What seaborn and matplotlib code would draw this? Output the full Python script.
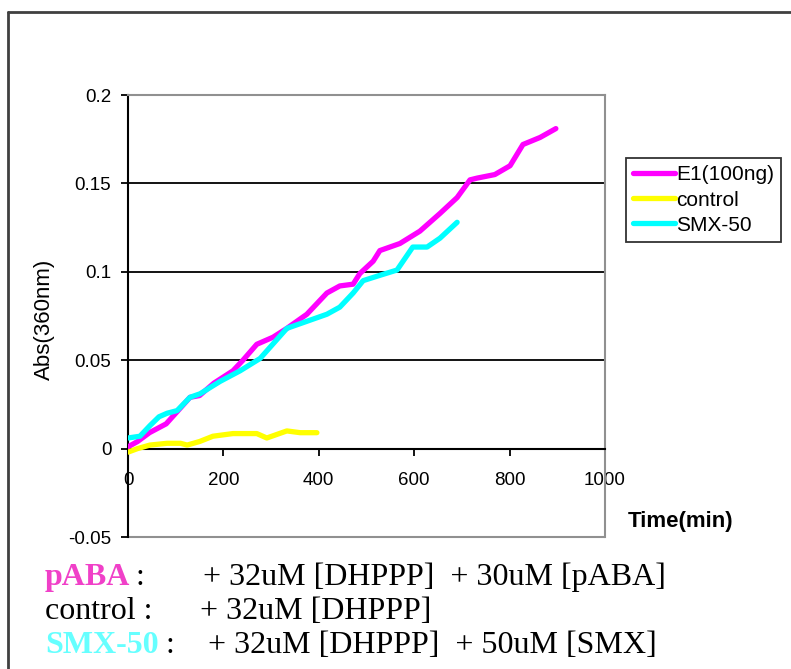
import pandas as pd
import matplotlib
matplotlib.use("Agg")
import matplotlib.pyplot as plt
from matplotlib.lines import Line2D
import seaborn as sns

# values
e1_time = [0, 20, 45, 80, 110, 130, 150, 180, 220, 241, 270, 304, 333, 375, 417,
           444, 472, 486, 514, 528, 570, 612, 654, 690, 717, 732, 769, 801, 828, 864, 897]
e1_abs = [0.001, 0.004, 0.009, 0.014, 0.023, 0.029, 0.030, 0.037, 0.044, 0.050, 0.059,
          0.063, 0.068, 0.076, 0.088, 0.092, 0.093, 0.099, 0.106, 0.112, 0.116, 0.123,
          0.133, 0.142, 0.152, 0.153, 0.155, 0.160, 0.172, 0.176, 0.181]

control_time = [0, 20, 46, 82, 110, 124, 150, 178, 220, 270, 291, 333, 361, 396]
control_abs = [-0.002, 0.000, 0.002, 0.003, 0.003, 0.002, 0.004, 0.007, 0.0085,
               0.0085, 0.006, 0.010, 0.009, 0.009]

smx_time = [0, 25, 46, 65, 82, 103, 130, 151, 175, 193, 235, 277, 333, 375, 417,
            444, 472, 493, 528, 564, 597, 627, 654, 690]
smx_abs = [0.006, 0.007, 0.013, 0.018, 0.020, 0.0215, 0.029, 0.031, 0.035, 0.038,
           0.044, 0.051, 0.068, 0.072, 0.076, 0.080, 0.088, 0.095, 0.098, 0.101,
           0.114, 0.114, 0.119, 0.128]

series_names = ["E1(100ng)", "control", "SMX-50"]
series_colors = ["#FF00FF", "#FFFF00", "#00FFFF"]

y_ticks = [-0.05, 0, 0.05, 0.1, 0.15, 0.2]
y_tick_labels = ["-0.05", "0", "0.05", "0.1", "0.15", "0.2"]
x_ticks = [0, 200, 400, 600, 800, 1000]

df = pd.concat([
    pd.DataFrame({"time": e1_time, "abs": e1_abs, "series": series_names[0]}),
    pd.DataFrame({"time": control_time, "abs": control_abs, "series": series_names[1]}),
    pd.DataFrame({"time": smx_time, "abs": smx_abs, "series": series_names[2]}),
], ignore_index=True)

sns.set_style("white")
plt.rcParams["font.family"] = ["Liberation Sans", "DejaVu Sans"]
plt.rcParams["text.color"] = "black"

W, H = 791, 669
fig = plt.figure(figsize=(W / 100, H / 100), dpi=100)
ax = fig.add_axes([128 / W, 1 - 537 / H, 477 / W, 442 / H])

sns.lineplot(data=df, x="time", y="abs", hue="series", hue_order=series_names,
             palette=dict(zip(series_names, series_colors)), estimator=None,
             sort=False, linewidth=3.8, ax=ax, zorder=3)

ax.set_xlim(0, 1000)
ax.set_ylim(-0.05, 0.2)
ax.set_xticks(x_ticks)
ax.set_yticks(y_ticks)
ax.set_yticklabels(y_tick_labels)
ax.set_xlabel("")
ax.set_ylabel("")

for y in y_ticks[2:5]:
    ax.axhline(y, color="black", lw=1.3, zorder=1)
ax.axhline(-0.05, color="#909090", lw=1.5, zorder=1, clip_on=False)

for side in ["top", "right"]:
    ax.spines[side].set_color("#909090")
    ax.spines[side].set_linewidth(1.5)
ax.spines["left"].set_color("black")
ax.spines["left"].set_linewidth(1.5)
ax.spines["bottom"].set_position(("data", 0))
ax.spines["bottom"].set_color("black")
ax.spines["bottom"].set_linewidth(1.5)

ax.tick_params(axis="y", direction="out", length=5, width=1.3, pad=7,
               labelsize=13.5, left=True, colors="black")
ax.tick_params(axis="x", direction="out", length=5, width=1.3, pad=12,
               labelsize=13.5, bottom=True, colors="black")

ax.legend(loc="upper left", bbox_to_anchor=(626 / W, 1 - 158 / H),
          bbox_transform=fig.transFigure, frameon=True, fancybox=False,
          edgecolor="black", fontsize=15, handlelength=2.0, handletextpad=0.05,
          borderaxespad=0, borderpad=0.35, labelspacing=0.3)
ax.get_legend().get_frame().set_linewidth(1.3)

fig.text(44 / W, 1 - 319 / H, "Abs(360nm)", rotation=90, ha="center",
         va="center", fontsize=16)
fig.text(628 / W, 1 - 521 / H, "Time(min)", ha="left", va="center",
         fontsize=16, fontweight="bold")

# outer frame
fig.add_artist(Line2D([8 / W, 8 / W], [0, 1 - 12 / H], transform=fig.transFigure,
                      color="#404040", lw=2))
fig.add_artist(Line2D([8 / W, 1], [1 - 12 / H, 1 - 12 / H], transform=fig.transFigure,
                      color="#404040", lw=2))

# notes under the chart
serif = ["Liberation Serif", "DejaVu Serif"]
fs = 23
fig.text(45 / W, 1 - 585 / H, "pABA", color="#F040C8", fontweight="bold",
         fontsize=fs, family=serif, va="baseline")
fig.text(135 / W, 1 - 585 / H, ":", fontsize=fs, family=serif, va="baseline")
fig.text(203 / W, 1 - 585 / H, "+ 32uM [DHPPP]  + 30uM [pABA]", fontsize=fs,
         family=serif, va="baseline")
fig.text(45 / W, 1 - 619 / H, "control :", fontsize=fs, family=serif, va="baseline")
fig.text(200 / W, 1 - 619 / H, "+ 32uM [DHPPP]", fontsize=fs, family=serif,
         va="baseline")
fig.text(45 / W, 1 - 653 / H, "SMX-50", color="#66FFFF", fontweight="bold",
         fontsize=fs, family=serif, va="baseline")
fig.text(165 / W, 1 - 653 / H, ":", fontsize=fs, family=serif, va="baseline")
fig.text(208 / W, 1 - 653 / H, "+ 32uM [DHPPP]  + 50uM [SMX]", fontsize=fs,
         family=serif, va="baseline")

fig.savefig("out.png", dpi=100)
